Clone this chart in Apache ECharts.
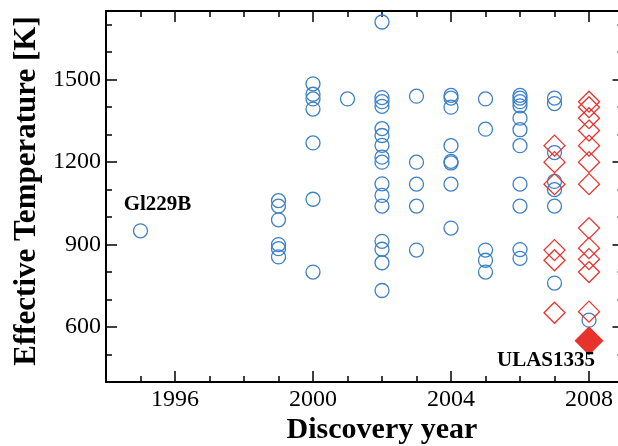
<!DOCTYPE html>
<html>
<head>
<meta charset="utf-8">
<script src="https://cdn.jsdelivr.net/npm/echarts@6/dist/echarts.min.js"></script>
<style>
  html, body { margin: 0; padding: 0; background: #fff; overflow: hidden; }
  #chart { width: 625px; height: 446px; }
</style>
</head>
<body>
<div id="chart"></div>
<script>
// Effective temperatures [K] of T dwarfs, grouped by discovery year
const teff1995 = [950];
const teff1999 = [1060, 1040, 990, 900, 885, 855];
const teff2000 = [1485, 1447, 1430, 1393, 1270, 1065, 800];
const teff2001 = [1430];
const teff2002 = [1710, 1435, 1420, 1403, 1322, 1297, 1261, 1218, 1200, 1121, 1079, 1040, 912, 883, 834, 733];
const teff2003 = [1440, 1200, 1120, 1040, 880];
const teff2004 = [1443, 1433, 1400, 1260, 1203, 1197, 1120, 960];
const teff2005 = [1430, 1320, 880, 843, 800];
const teff2006 = [1443, 1433, 1420, 1405, 1360, 1318, 1260, 1120, 1040, 882, 850];
const teff2007 = [1433, 1413, 1235, 1130, 1100, 1040, 760];
const teff2008 = [625];

// New discoveries (open red diamonds)
const newTeff2007 = [1260, 1200, 1120, 880, 843, 652];
const newTeff2008 = [1420, 1400, 1360, 1315, 1260, 1200, 1120, 960, 887, 847, 800, 656];

// ULAS J1335 (filled diamond)
const ulasYear = 2008;
const ulasTeff = 550;

const xLabelTicks = [1996, 2000, 2004, 2008];
const yLabelTicks = [600, 900, 1200, 1500];

const knownByYear = [
  [1995, teff1995], [1999, teff1999], [2000, teff2000], [2001, teff2001],
  [2002, teff2002], [2003, teff2003], [2004, teff2004], [2005, teff2005],
  [2006, teff2006], [2007, teff2007], [2008, teff2008]
];
const newByYear = [[2007, newTeff2007], [2008, newTeff2008]];

function toPoints(groups) {
  const pts = [];
  groups.forEach(([yr, arr]) => arr.forEach(t => pts.push([yr, t])));
  return pts;
}

const SERIF = 'Liberation Serif';
const BLUE = '#3c80c8';
const RED = '#e8322c';

const knownPoints = toPoints(knownByYear).map(p => {
  if (p[0] === 1995) {
    return {
      value: p,
      label: {
        show: true, formatter: 'Gl229B', position: 'inside',
        offset: [17, -26], color: '#000',
        fontFamily: SERIF, fontWeight: 'bold', fontSize: 21
      }
    };
  }
  return p;
});

const X_MIN = 1994, X_MAX = 2009;
const Y_MIN = 400, Y_MAX = 1750;

// Minor ticks every unit on one axis, longer ticks at the labelled values on an overlaid twin
function xAx(pos, ticks, len, showLine, showLabel) {
  return {
    type: 'value', position: pos, min: X_MIN, max: X_MAX, interval: 1,
    splitLine: { show: false },
    axisLine: { show: showLine, onZero: false, lineStyle: { color: '#000', width: 2 } },
    axisTick: Object.assign({ show: true, inside: true, length: len, lineStyle: { color: '#000', width: 1.5 } },
      ticks ? { customValues: ticks } : {}),
    axisLabel: showLabel ? {
      show: true, customValues: xLabelTicks, margin: 6,
      formatter: v => String(v),
      fontFamily: SERIF, fontSize: 24, color: '#000'
    } : { show: false }
  };
}

function yAx(pos, ticks, len, showLine, showLabel) {
  return {
    type: 'value', position: pos, min: Y_MIN, max: Y_MAX, interval: 100,
    splitLine: { show: false },
    axisLine: { show: showLine, onZero: false, lineStyle: { color: '#000', width: 2 } },
    axisTick: Object.assign({ show: true, inside: true, length: len, lineStyle: { color: '#000', width: 1.5 } },
      ticks ? { customValues: ticks } : {}),
    axisLabel: showLabel ? {
      show: true, customValues: yLabelTicks, margin: 5,
      formatter: v => String(v),
      fontFamily: SERIF, fontSize: 24, color: '#000'
    } : { show: false }
  };
}

const chart = echarts.init(document.getElementById('chart'), null, { renderer: 'canvas' });
chart.setOption({
  animation: false,
  backgroundColor: '#fff',
  grid: { left: 106, top: 11, right: 1.5, bottom: 64, containLabel: false },
  xAxis: [
    xAx('bottom', null, 6, true, true),
    xAx('bottom', xLabelTicks, 11, false, false),
    xAx('top', null, 6, true, false),
    xAx('top', xLabelTicks, 11, false, false)
  ],
  yAxis: [
    yAx('left', null, 6, true, true),
    yAx('left', yLabelTicks, 11, false, false),
    yAx('right', null, 6, true, false),
    yAx('right', yLabelTicks, 11, false, false)
  ],
  graphic: [
    {
      type: 'text', x: 27, y: 191, rotation: Math.PI / 2,
      style: {
        text: 'Effective Temperature [K]', align: 'center', verticalAlign: 'middle',
        font: 'bold 31px "Liberation Serif"', fill: '#000'
      }
    },
    {
      type: 'text', x: 382, y: 430,
      style: {
        text: 'Discovery year', align: 'center', verticalAlign: 'middle',
        font: 'bold 30px "Liberation Serif"', fill: '#000'
      }
    }
  ],
  series: [
    {
      type: 'scatter', xAxisIndex: 0, yAxisIndex: 0,
      symbol: 'circle', symbolSize: 14,
      itemStyle: { color: 'rgba(0,0,0,0)', borderColor: BLUE, borderWidth: 1.3, opacity: 1 },
      data: knownPoints, z: 2
    },
    {
      type: 'scatter', xAxisIndex: 0, yAxisIndex: 0,
      symbol: 'diamond', symbolSize: 21,
      itemStyle: { color: 'rgba(0,0,0,0)', borderColor: RED, borderWidth: 1.3, opacity: 1 },
      data: toPoints(newByYear), z: 3
    },
    {
      type: 'scatter', xAxisIndex: 0, yAxisIndex: 0,
      symbol: 'diamond', symbolSize: 29,
      itemStyle: { color: RED, opacity: 1 },
      data: [{
        value: [ulasYear, ulasTeff],
        label: {
          show: true, formatter: 'ULAS1335', position: 'inside',
          offset: [-43, 20], color: '#000',
          fontFamily: SERIF, fontWeight: 'bold', fontSize: 21
        }
      }],
      z: 4
    }
  ]
});
</script>
</body>
</html>
